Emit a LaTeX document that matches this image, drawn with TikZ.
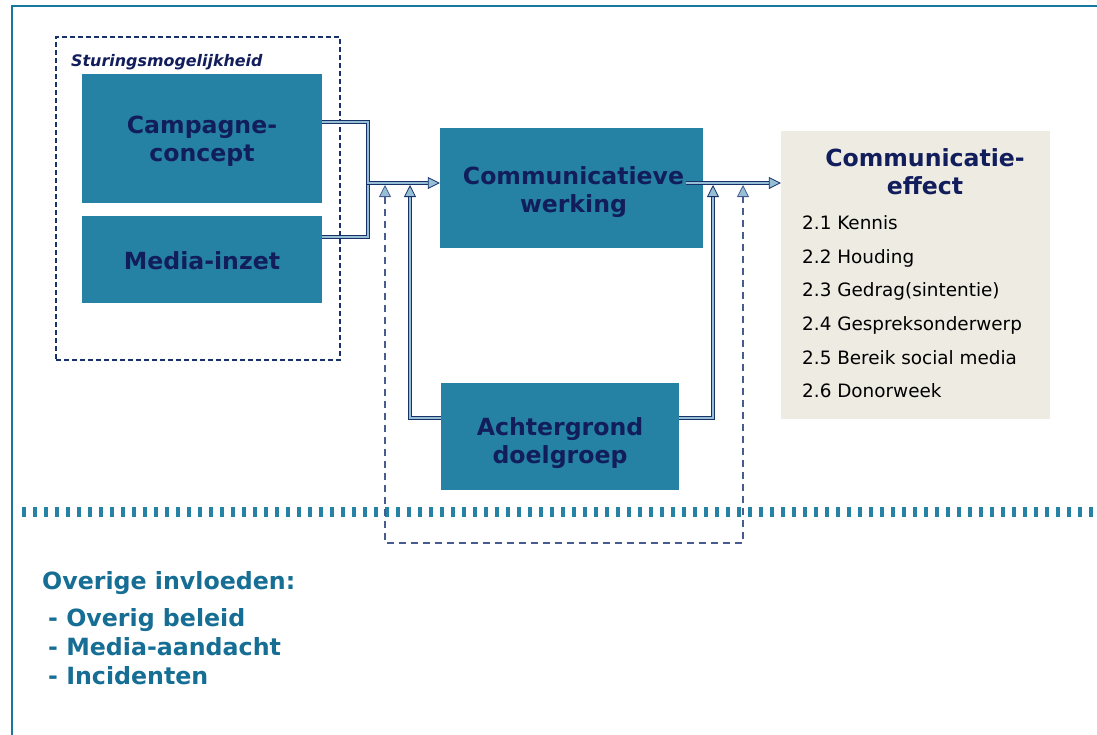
\documentclass[tikz,border=0pt]{standalone}
\usepackage{fontspec}
\setmainfont{DejaVu Sans}
\usetikzlibrary{arrows.meta, positioning}
\definecolor{boxteal}{RGB}{37, 130, 165}
\definecolor{titlenavy}{RGB}{18, 30, 92}
\definecolor{linenavy}{RGB}{22, 50, 105}
\definecolor{arrowblue}{RGB}{150, 190, 212}
\definecolor{dashblue}{RGB}{70, 92, 145}
\definecolor{effectbeige}{RGB}{238, 235, 227}
\definecolor{frameblue}{RGB}{22, 120, 160}
\definecolor{overigteal}{RGB}{22, 110, 148}
\tikzset{tri/.tip={Triangle[length=12pt, width=12pt, fill=arrowblue, line width=0.8pt]}}
\tikzstyle{blok} = [rectangle, fill=boxteal, inner sep=0pt]
\tikzstyle{titel} = [inner sep=0pt, text=titlenavy, font=\bfseries\fontsize{23.6}{28}\selectfont, align=center]
\tikzstyle{dbl} = [draw=linenavy, line width=0.6pt, double=arrowblue, double distance=2.6pt]
\tikzstyle{dsh} = [draw=dashblue, line width=2.6pt, dash pattern=on 7pt off 5pt]
\tikzstyle{lijst} = [inner sep=0pt, font=\fontsize{18.4}{20}\selectfont, text=black]
\tikzstyle{overig} = [inner sep=0pt, font=\bfseries\fontsize{23.7}{28}\selectfont, text=overigteal]

\begin{document}
\begin{tikzpicture}[x=1pt, y=-1pt]
\useasboundingbox (0,0) rectangle (1097,734);
% Frame
\draw[frameblue, line width=2pt] (12,740) -- (12,6) -- (1100,6);

% Sturingsmogelijkheid
\node[draw=linenavy, line width=2pt, dash pattern=on 5pt off 3pt, minimum width=284pt, minimum height=323pt] (stuur) at (198,198.5) {};
\node[anchor=base west, inner sep=0pt, text=titlenavy, font=\bfseries\itshape\fontsize{15.9}{18}\selectfont] (stuurlabel) at (71,66.7) {Sturingsmogelijkheid};

% Boxes
\node[blok, minimum width=240pt, minimum height=129pt, label={[titel, yshift=-3pt]center:{Campagne-\\concept}}] (camp) at (202,138.5) {};
\node[blok, minimum width=240pt, minimum height=87pt, label={[titel, yshift=-1pt]center:Media-inzet}] (media) at (202,259.5) {};
\node[blok, minimum width=263pt, minimum height=120pt, label={[titel, yshift=-4pt, xshift=2pt]center:{Communicatieve\\werking}}] (werk) at (571.5,188) {};
\node[blok, minimum width=238pt, minimum height=107pt, label={[titel, yshift=-7pt]center:{Achtergrond\\doelgroep}}] (achter) at (560,436.5) {};

% Effect box
\node[fill=effectbeige, minimum width=269pt, minimum height=288pt, inner sep=0pt] (effect) at (915.5,275) {};
\node[titel] (effkop) at (925,172) {Communicatie-\\effect};
\foreach \punt [count=\i] in {2.1 Kennis, 2.2 Houding, 2.3 Gedrag(sintentie), 2.4 Gespreksonderwerp, 2.5 Bereik social media, 2.6 Donorweek}
  \node[lijst, anchor=base west] (eff\i) at (802,{229.3+33.7*(\i-1)}) {\punt};

% Separator
\draw[boxteal, line width=10pt, dash pattern=on 3.6pt off 7.4pt] (22,512) -- (1097,512);

% Junctions
\coordinate (j1) at (368,183);
\coordinate (uit) at (686,183);
\coordinate (a1) at (410,185);
\coordinate (a2) at (713,185);
\coordinate (d1) at (385,185);
\coordinate (d2) at (743,185);
\coordinate (dl) at (385,543);
\coordinate (dr) at (743,543);

% Arrows
\draw[dbl] ([yshift=22.5pt]media.east) -| (j1);
\draw[dbl, -tri] ([yshift=16.5pt]camp.east) -| (j1) -- (werk.west |- j1);
\draw[dbl, -tri] ([yshift=18.5pt]achter.west) -| (a1);
\draw[dbl, -tri] ([yshift=18.5pt]achter.east) -| (a2);
\draw[dbl, -tri] (uit) -- (uit -| effect.west);
\draw[dsh, tri-tri] (d1) -- (dl) -- (dr) -- (d2);

% Overige invloeden
\node[overig, anchor=base west] (ovkop) at (42,589) {Overige invloeden:};
\foreach \punt [count=\i] in {Overig beleid, Media-aandacht, Incidenten}
  \node[overig, anchor=base west] (ov\i) at (48,{626+29*(\i-1)}) {- \punt};
\end{tikzpicture}
\end{document}
